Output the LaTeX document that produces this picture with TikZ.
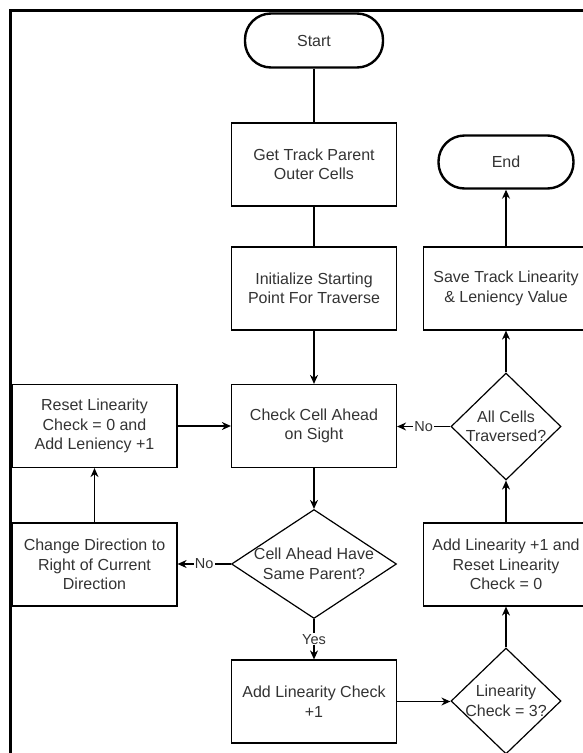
\documentclass[tikz,border=0pt]{standalone}
\usepackage{fontspec}
\setmainfont{Liberation Sans}
\usetikzlibrary{arrows.meta,positioning,shapes.geometric}

\begin{document}
\begin{tikzpicture}[x=1pt, y=-1pt,
  box/.style={draw, line width=1.2pt, align=center, text=black!80,
    font=\fontsize{16}{19.5}\selectfont, inner sep=2pt,
    minimum width=165pt, minimum height=83pt},
  term/.style={box, rounded corners=26pt, line width=2.4pt,
    minimum width=138pt, minimum height=54pt},
  decision/.style={box, diamond, inner xsep=-40pt, inner ysep=-22pt,
    minimum width=165pt, minimum height=109pt},
  lbl/.style={fill=white, inner sep=1pt, text=black!80,
    font=\fontsize{14.5}{17}\selectfont},
  >={Stealth[length=9pt, width=8pt]}, line width=1.2pt]
  \useasboundingbox (0,0) rectangle (582,753);
  \draw[line width=3pt] (10.3,800) -- (10.3,10.3) -- (620,10.3);
  % middle column
  \node[term] (start) at (314,40.5) {Start};
  \node[box] (track) at (314,164.5) {Get Track Parent\\ Outer Cells};
  \node[box] (init) at (314,288.5) {Initialize Starting\\ Point For Traverse};
  \node[box] (check) at (314,426) {Check Cell Ahead\\ on Sight};
  \node[decision] (same) at (314,564) {Cell Ahead Have\\ Same Parent?};
  \node[box] (addchk) at (314,701.5) {Add Linearity Check\\ +1};
  % left column
  \node[box] (reset) at (94.5,426) {Reset Linearity\\ Check = 0 and\\ Add Leniency +1};
  \node[box] (change) at (94.5,564.5) {Change Direction to\\ Right of Current\\ Direction};
  % right column
  \node[term, minimum width=135pt, minimum height=53pt] (end) at (506,162) {End};
  \node[box] (save) at (506,288.5) {Save Track Linearity\\ \& Leniency Value};
  \node[decision, minimum width=110pt, minimum height=107pt] (allcells) at (506,426.5) {All Cells\\ Traversed?};
  \node[box] (addlin) at (506,564.5) {Add Linearity +1 and\\ Reset Linearity\\ Check = 0};
  \node[decision, minimum width=110pt, minimum height=106pt] (lincheck) at (506,701) {Linearity\\ Check = 3?};
  % connectors
  \draw (start) -- (track);
  \draw (track) -- (init);
  \draw[->] (init) -- (check);
  \draw[->] (check) -- (same);
  \draw[->] (same.south) -- node[lbl] {Yes} (addchk.north);
  \draw[->] (same.west) -- node[lbl] {No} (same.west -| change.east);
  \draw[->] (change) -- (reset);
  \draw[->] (reset) -- (check);
  \draw[->] (addchk.east) -- (addchk.east -| lincheck.west);
  \draw[->] (lincheck) -- (addlin);
  \draw[->] (addlin) -- (allcells);
  \draw[->] (allcells.west) -- node[lbl] {No} (allcells.west -| check.east);
  \draw[->] (allcells) -- (save);
  \draw[->] (save) -- (end);
\end{tikzpicture}
\end{document}
